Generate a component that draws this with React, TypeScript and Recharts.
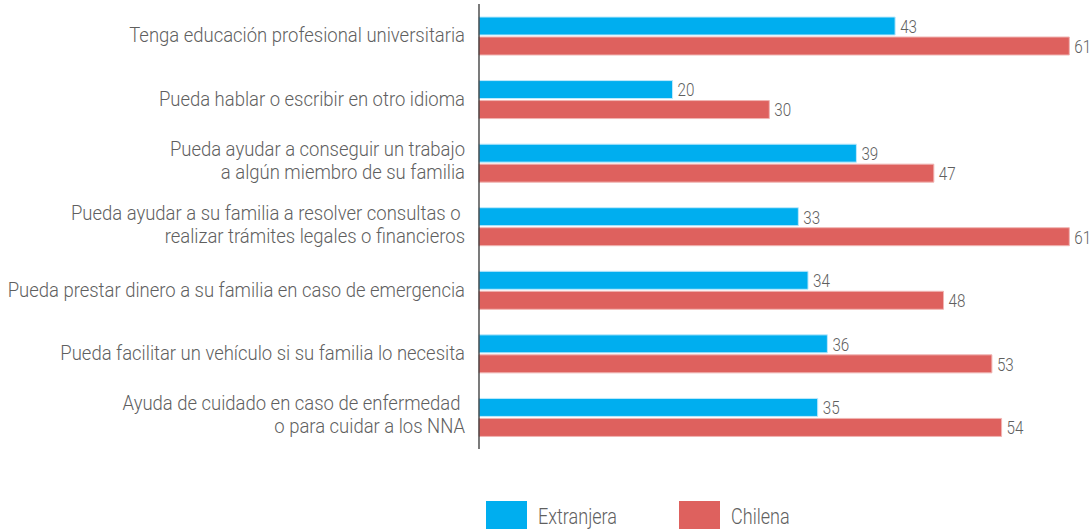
import React from "react";
import { BarChart, Bar, XAxis, YAxis, LabelList } from "recharts";

const categories = [
  "Tenga educación profesional universitaria",
  "Pueda hablar o escribir en otro idioma",
  "Pueda ayudar a conseguir un trabajo\na algún miembro de su familia",
  "Pueda ayudar a su familia a resolver consultas o \nrealizar trámites legales o financieros",
  "Pueda prestar dinero a su familia en caso de emergencia",
  "Pueda facilitar un vehículo si su familia lo necesita",
  "Ayuda de cuidado en caso de enfermedad \no para cuidar a los NNA",
];
const extranjera = [43, 20, 39, 33, 34, 36, 35];
const chilena = [61, 30, 47, 61, 48, 53, 54];

const data = categories.map((name, i) => ({
  name,
  extranjera: extranjera[i],
  chilena: chilena[i],
}));

const FONT = "Roboto, 'DejaVu Sans', sans-serif";
const BLUE = "#00AEEF";
const RED = "#DE615E";
const TEXT = "#5f5f5f";

// the source font is a condensed one, so Roboto gets squeezed sideways
const CategoryTick = (props: any) => {
  const { x, y, payload } = props;
  const lines = String(payload.value).split("\n");
  const lh = 23;
  const y0 = -((lines.length - 1) * lh) / 2 - (lines.length - 1) * 2;
  return (
    <g transform={`translate(${x - 6},${y}) scale(0.88,1)`}>
      <text x={0} y={y0} textAnchor="end" fill={TEXT} fontSize={21} fontWeight={300} fontFamily={FONT}>
        {lines.map((l, i) => (
          <tspan key={i} x={0} y={y0 + i * lh} dy="0.31em">
            {l}
          </tspan>
        ))}
      </text>
    </g>
  );
};

const ValueLabel = (props: any) => {
  const { x, y, width, height, value } = props;
  return (
    <g transform={`translate(${x + width + 5},${y + height / 2}) scale(0.8,1)`}>
      <text x={0} y={0} dy="0.36em" fill={TEXT} fontSize={19} fontWeight={300} fontFamily={FONT}>
        {value}
      </text>
    </g>
  );
};

const legendItems = [
  { label: "Extranjera", color: BLUE, left: 486 },
  { label: "Chilena", color: RED, left: 679 },
];

export default function App() {
  return (
    <div style={{ position: "absolute", left: 0, top: 0, width: 1092, height: 529, background: "#fff", overflow: "hidden" }}>
      <BarChart
        width={1092}
        height={529}
        data={data}
        layout="vertical"
        margin={{ top: 4, right: 13, left: 0, bottom: 80 }}
        barGap={2}
        barCategoryGap="21%"
      >
        <XAxis type="number" domain={[0, 62]} hide />
        <YAxis
          type="category"
          dataKey="name"
          width={479}
          tick={<CategoryTick />}
          tickLine={false}
          axisLine={{ stroke: "#222", strokeWidth: 1.2 }}
          interval={0}
        />
        <Bar dataKey="extranjera" fill={BLUE} barSize={18} stroke="#bfe9fb" strokeWidth={1} isAnimationActive={false}>
          <LabelList dataKey="extranjera" content={<ValueLabel />} />
        </Bar>
        <Bar dataKey="chilena" fill={RED} barSize={18} stroke="#f0b5b3" strokeWidth={1} isAnimationActive={false}>
          <LabelList dataKey="chilena" content={<ValueLabel />} />
        </Bar>
      </BarChart>
      {legendItems.map((it) => (
        <div key={it.label} style={{ position: "absolute", left: it.left, top: 501, display: "flex", fontFamily: FONT }}>
          <div style={{ width: 41, height: 30, background: it.color }} />
          <span
            style={{
              marginLeft: 11,
              fontSize: 22,
              fontWeight: 300,
              color: TEXT,
              lineHeight: "32px",
              display: "inline-block",
              transform: "scaleX(0.82)",
              transformOrigin: "left center",
            }}
          >
            {it.label}
          </span>
        </div>
      ))}
    </div>
  );
}
